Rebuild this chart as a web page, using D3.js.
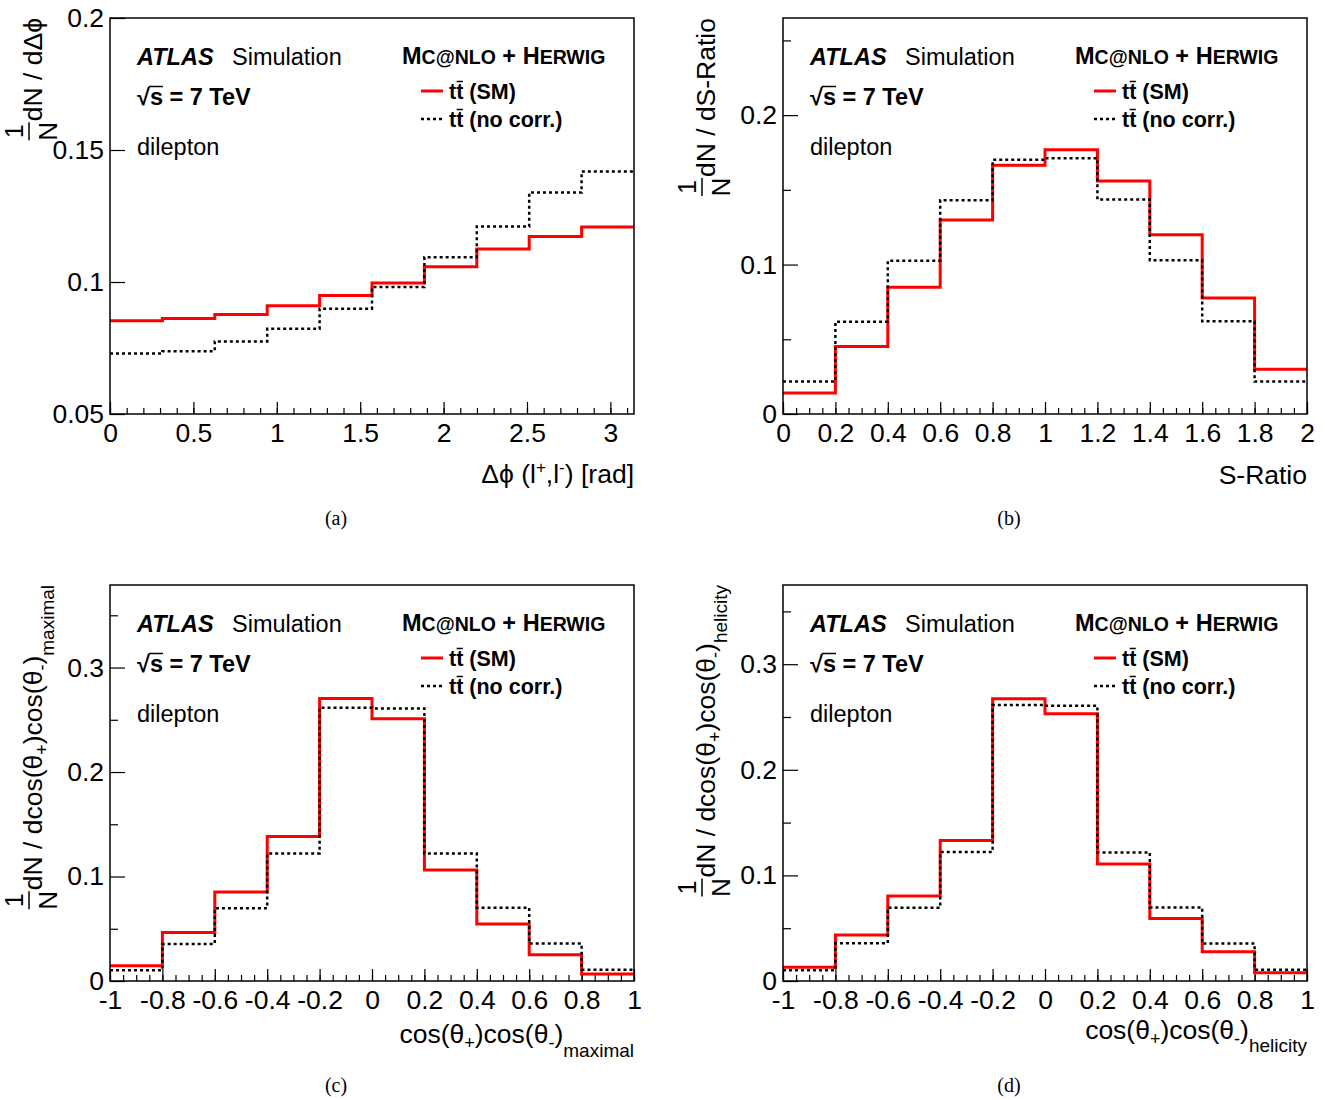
<!DOCTYPE html>
<html><head><meta charset="utf-8">
<script src="https://cdn.jsdelivr.net/npm/d3@7"></script>
<style>body{margin:0;background:#fff;} svg{display:block;}</style>
</head><body>
<svg id="chart" width="1325" height="1100"></svg>
<script>
// ---------------- data ----------------
const dphiBinEdges = [0, 0.31416, 0.62832, 0.94248, 1.25664, 1.5708, 1.88496, 2.19911, 2.51327, 2.82743, 3.14159];
const dphiSM       = [0.0853, 0.0862, 0.0877, 0.0910, 0.0949, 0.0996, 0.1058, 0.1125, 0.1172, 0.1208];
const dphiNoCorr   = [0.0729, 0.0738, 0.0775, 0.0823, 0.0899, 0.0981, 0.1094, 0.1210, 0.1339, 0.1419];

const sratioBinEdges = [0, 0.2, 0.4, 0.6, 0.8, 1.0, 1.2, 1.4, 1.6, 1.8, 2.0];
const sratioSM       = [0.0141, 0.0451, 0.0848, 0.1299, 0.1665, 0.1768, 0.1560, 0.1199, 0.0777, 0.0299];
const sratioNoCorr   = [0.0217, 0.0618, 0.1025, 0.1431, 0.1701, 0.1712, 0.1435, 0.1029, 0.0621, 0.0217];

const cosBinEdges  = [-1, -0.8, -0.6, -0.4, -0.2, 0, 0.2, 0.4, 0.6, 0.8, 1];
const cosMaxSM     = [0.0145, 0.0465, 0.0852, 0.1382, 0.2703, 0.2509, 0.1062, 0.0546, 0.0252, 0.0068];
const cosMaxNoCorr = [0.0103, 0.0355, 0.0697, 0.1221, 0.2615, 0.2609, 0.1221, 0.0701, 0.0358, 0.0107];
const cosHelSM     = [0.0131, 0.0435, 0.0806, 0.1330, 0.2673, 0.2530, 0.1107, 0.0592, 0.0278, 0.0077];
const cosHelNoCorr = [0.0102, 0.0358, 0.0694, 0.1222, 0.2613, 0.2606, 0.1218, 0.0697, 0.0355, 0.0106];

// tick labels
const dphiXTicks   = [0, 0.5, 1, 1.5, 2, 2.5, 3];
const dphiYTicks   = [0.05, 0.1, 0.15, 0.2];
const sratioXTicks = [0, 0.2, 0.4, 0.6, 0.8, 1, 1.2, 1.4, 1.6, 1.8, 2];
const sratioYTicks = [0, 0.1, 0.2];
const cosXTicks    = [-1, -0.8, -0.6, -0.4, -0.2, 0, 0.2, 0.4, 0.6, 0.8, 1];
const cosYTicks    = [0, 0.1, 0.2, 0.3];
const captions     = ["(a)", "(b)", "(c)", "(d)"];
const legendLabels = ["(SM)", "(no corr.)"];

// ---------------- layout ----------------
const W = 524, H = 396;
const SANS = "'Liberation Sans', Arial, Helvetica, sans-serif";
const SERIF = "'Liberation Serif', 'DejaVu Serif', serif";
const RED = "#ff0000";
const PHI = "\u03d5";

const svg = d3.select("#chart");
svg.append("rect").attr("width", 1325).attr("height", 1100).attr("fill", "#fff");

const S = (t, o = {}) => Object.assign({ t, size: 26.5, shift: 0 }, o);

const panels = [
  { x0: 110, y0: 18, xDomain: [0, Math.PI], yDomain: [0.05, 0.2], edges: dphiBinEdges, sm: dphiSM, nc: dphiNoCorr,
    xMajor: dphiXTicks, xMinor: d3.range(0, 3.15, 0.1), yMajor: dphiYTicks, yMinor: [],
    yTitle: [S("dN / d\u0394" + PHI)],
    xTitle: [S("\u0394" + PHI + " (l"), S("+", { size: 17, shift: -10 }), S(",l"), S("-", { size: 17, shift: -10 }), S(") [rad]")],
    xTitleY: 69, caption: captions[0] },
  { x0: 783, y0: 18, xDomain: [0, 2], yDomain: [0, 0.265], edges: sratioBinEdges, sm: sratioSM, nc: sratioNoCorr,
    xMajor: sratioXTicks, xMinor: d3.range(0, 2.001, 0.05), yMajor: sratioYTicks, yMinor: [0.05, 0.15, 0.25],
    yTitle: [S("dN / dS-Ratio")],
    xTitle: [S("S-Ratio")], xTitleY: 70, caption: captions[1] },
  { x0: 110, y0: 585, xDomain: [-1, 1], yDomain: [0, 0.379], edges: cosBinEdges, sm: cosMaxSM, nc: cosMaxNoCorr,
    xMajor: cosXTicks, xMinor: d3.range(-1, 1.001, 0.05), yMajor: cosYTicks, yMinor: [0.05, 0.15, 0.25, 0.35],
    yTitle: [S("dN / dcos(\u03b8"), S("+", { size: 18, shift: 6 }), S(")cos(\u03b8"), S("-", { size: 18, shift: 6 }), S(")"), S("maximal", { size: 19, shift: 12 })],
    xTitle: [S("cos(\u03b8"), S("+", { size: 18, shift: 6 }), S(")cos(\u03b8"), S("-", { size: 18, shift: 6 }), S(")"), S("maximal", { size: 19, shift: 14 })],
    xTitleY: 62, caption: captions[2] },
  { x0: 783, y0: 585, xDomain: [-1, 1], yDomain: [0, 0.375], edges: cosBinEdges, sm: cosHelSM, nc: cosHelNoCorr,
    xMajor: cosXTicks, xMinor: d3.range(-1, 1.001, 0.05), yMajor: cosYTicks, yMinor: [0.05, 0.15, 0.25, 0.35],
    yTitle: [S("dN / dcos(\u03b8"), S("+", { size: 18, shift: 6 }), S(")cos(\u03b8"), S("-", { size: 18, shift: 6 }), S(")"), S("helicity", { size: 19, shift: 12 })],
    xTitle: [S("cos(\u03b8"), S("+", { size: 18, shift: 6 }), S(")cos(\u03b8"), S("-", { size: 18, shift: 6 }), S(")"), S("helicity", { size: 19, shift: 13 })],
    xTitleY: 58, caption: captions[3] }
];

function rich(textSel, segs) {
  let cur = 0;
  segs.forEach(s => {
    textSel.append("tspan").attr("font-size", s.size).attr("dy", s.shift - cur).text(s.t);
    cur = s.shift;
  });
}

const fmt = d => String(+d.toFixed(3));

panels.forEach((p, idx) => {
  const g = svg.append("g").attr("transform", `translate(${p.x0},${p.y0})`);
  const xs = d3.scaleLinear().domain(p.xDomain).range([0, W]);
  const ys = d3.scaleLinear().domain(p.yDomain).range([H, 0]);

  const clipId = "clip" + idx;
  g.append("clipPath").attr("id", clipId).append("rect").attr("width", W).attr("height", H);

  // x major
  const ax = g.append("g").attr("transform", `translate(0,${H})`)
    .call(d3.axisBottom(xs).tickValues(p.xMajor).tickSizeInner(-12).tickSizeOuter(0).tickPadding(9).tickFormat(fmt));
  ax.select(".domain").remove();
  ax.attr("font-family", SANS).attr("font-size", 26.5);
  ax.selectAll("line").attr("stroke", "#000").attr("stroke-width", 1.2);
  ax.selectAll("text").attr("fill", "#000");
  // x minor
  const axm = g.append("g").attr("transform", `translate(0,${H})`)
    .call(d3.axisBottom(xs).tickValues(p.xMinor).tickSizeInner(-6).tickSizeOuter(0).tickFormat(""));
  axm.select(".domain").remove();
  axm.selectAll("line").attr("stroke", "#000").attr("stroke-width", 1.2);
  // y major
  const ay = g.append("g")
    .call(d3.axisLeft(ys).tickValues(p.yMajor).tickSizeInner(-15).tickSizeOuter(0).tickPadding(6).tickFormat(fmt));
  ay.select(".domain").remove();
  ay.attr("font-family", SANS).attr("font-size", 26.5);
  ay.selectAll("line").attr("stroke", "#000").attr("stroke-width", 1.2);
  ay.selectAll("text").attr("fill", "#000");
  // y minor
  if (p.yMinor.length) {
    const aym = g.append("g")
      .call(d3.axisLeft(ys).tickValues(p.yMinor).tickSizeInner(-8).tickSizeOuter(0).tickFormat(""));
    aym.select(".domain").remove();
    aym.selectAll("line").attr("stroke", "#000").attr("stroke-width", 1.2);
  }

  // histograms
  const line = d3.line().x(d => xs(d[0])).y(d => ys(d[1]));
  const steps = vals => vals.flatMap((v, i) => [[p.edges[i], v], [p.edges[i + 1], v]]);
  const hg = g.append("g").attr("clip-path", `url(#${clipId})`);
  hg.append("path").attr("d", line(steps(p.sm))).attr("fill", "none")
    .attr("stroke", RED).attr("stroke-width", 3);
  hg.append("path").attr("d", line(steps(p.nc))).attr("fill", "none")
    .attr("stroke", "#000").attr("stroke-width", 2.5).attr("stroke-dasharray", "3,3");

  // frame
  g.append("rect").attr("width", W).attr("height", H).attr("fill", "none")
    .attr("stroke", "#000").attr("stroke-width", 1.5);

  // in-plot text
  const t = g.append("g").attr("font-family", SANS).attr("fill", "#000");
  t.append("text").attr("x", 27).attr("y", 46.5).attr("font-size", 23.5)
    .attr("font-weight", "bold").attr("font-style", "italic").text("ATLAS");
  t.append("text").attr("x", 122).attr("y", 46.5).attr("font-size", 23.5).text("Simulation");
  const sq = t.append("text").attr("x", 27).attr("y", 86.5).attr("font-size", 23.5)
    .attr("font-weight", "bold").text("\u221As = 7 TeV");
  t.append("text").attr("x", 27).attr("y", 137).attr("font-size", 23.5).text("dilepton");
  const gen = t.append("text").attr("x", 292).attr("y", 45.5).attr("font-weight", "bold");
  [["M", 23.5], ["C@NLO", 19.5], [" + ", 23.5], ["H", 23.5], ["ERWIG", 19.5]].forEach(([s, fs]) =>
    gen.append("tspan").attr("font-size", fs).text(s));

  // sqrt overbar
  {
    const n = sq.node();
    const a = n.getStartPositionOfChar(1).x, b = n.getEndPositionOfChar(1).x;
    t.append("line").attr("x1", a - 1).attr("x2", b).attr("y1", 86.5 - 18).attr("y2", 86.5 - 18)
      .attr("stroke", "#000").attr("stroke-width", 1.5);
  }

  // legend
  const legY = [73, 101];
  t.append("line").attr("x1", 311).attr("x2", 333).attr("y1", legY[0]).attr("y2", legY[0])
    .attr("stroke", RED).attr("stroke-width", 3);
  t.append("line").attr("x1", 311).attr("x2", 333).attr("y1", legY[1]).attr("y2", legY[1])
    .attr("stroke", "#000").attr("stroke-width", 2.5).attr("stroke-dasharray", "3,3");
  legendLabels.forEach((lab, i) => {
    const tx = t.append("text").attr("x", 339).attr("y", legY[i] + 7.5).attr("font-size", 21.5)
      .attr("font-weight", "bold").text("tt " + lab);
    const n = tx.node();
    const a = n.getStartPositionOfChar(1).x, b = n.getEndPositionOfChar(1).x;
    t.append("line").attr("x1", a + 0.5).attr("x2", b - 0.5)
      .attr("y1", legY[i] + 7.5 - 17).attr("y2", legY[i] + 7.5 - 17)
      .attr("stroke", "#000").attr("stroke-width", 1.5);
  });

  // x title
  const xt = g.append("text").attr("x", W).attr("y", H + p.xTitleY).attr("text-anchor", "end")
    .attr("font-family", SANS).attr("fill", "#000");
  rich(xt, p.xTitle);

  // y title (rotated)
  const yg = g.append("g").attr("transform", `translate(-68,0) rotate(-90)`)
    .attr("font-family", SANS).attr("fill", "#000");
  const yt = yg.append("text").attr("x", 0).attr("y", 0).attr("text-anchor", "end");
  rich(yt, p.yTitle);
  const L = yt.node().getComputedTextLength();
  const cx = -L - 10;
  yg.append("text").attr("x", cx).attr("y", -19).attr("text-anchor", "middle").attr("font-size", 25).text("1");
  yg.append("text").attr("x", cx).attr("y", 15).attr("text-anchor", "middle").attr("font-size", 26).text("N");
  yg.append("line").attr("x1", cx - 9).attr("x2", cx + 9).attr("y1", -13).attr("y2", -13)
    .attr("stroke", "#000").attr("stroke-width", 1.5);

  // caption
  g.append("text").attr("x", 226).attr("y", H + 111).attr("text-anchor", "middle")
    .attr("font-family", SERIF).attr("font-size", 20).attr("fill", "#000").text(p.caption);
});
</script>
</body></html>
